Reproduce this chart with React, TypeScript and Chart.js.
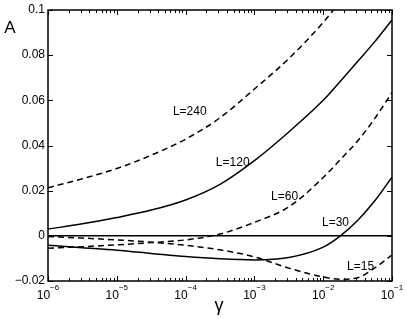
import React, { useEffect, useRef } from "react";
import { Chart, registerables } from "chart.js";

Chart.register(...registerables);

// γ grid (log spaced)
const GAMMA = [1e-6, 3.162e-6, 1e-5, 3.162e-5, 1e-4, 3.162e-4, 1e-3, 3.162e-3, 1e-2, 1.778e-2, 3.162e-2, 5.623e-2, 1e-1];

const A_L240 = [0.0213, 0.0253, 0.0298, 0.0357, 0.0428, 0.0523, 0.065, 0.0785, 0.0945, 0.104, 0.114, 0.125, 0.137];
const A_L120 = [0.003, 0.0053, 0.0081, 0.0114, 0.0159, 0.0228, 0.0333, 0.046, 0.06, 0.0685, 0.0772, 0.086, 0.0956];
const A_L60 = [-0.0055, -0.0048, -0.004, -0.003, -0.0018, 0.0008, 0.006, 0.0128, 0.0258, 0.0338, 0.042, 0.052, 0.0635];
const A_L30 = [-0.0042, -0.0053, -0.0064, -0.0078, -0.0092, -0.0102, -0.0107, -0.0096, -0.005, 0.0, 0.0068, 0.0155, 0.026];
const A_L15 = [-0.0003, -0.001, -0.0018, -0.0028, -0.0042, -0.0062, -0.0093, -0.0143, -0.0182, -0.0192, -0.0186, -0.0142, -0.0085];
const A_ZERO = [0, 0, 0, 0, 0, 0, 0, 0, 0, 0, 0, 0, 0];

const Y_TICKS = [-0.02, 0, 0.02, 0.04, 0.06, 0.08, 0.1];
const Y_TICK_LABELS = ["\u22120.02", "0", "0.02", "0.04", "0.06", "0.08", "0.1"];
const X_TICK_EXPONENTS = [-6, -5, -4, -3, -2, -1];

const CURVE_LABELS = [
  { text: "L=240", gamma: 1.15e-4, a: 0.055 },
  { text: "L=120", gamma: 4.84e-4, a: 0.0322 },
  { text: "L=60", gamma: 2.75e-3, a: 0.0172 },
  { text: "L=30", gamma: 1.51e-2, a: 0.0057 },
  { text: "L=15", gamma: 3.49e-2, a: -0.0138 },
];

const FONT = "'Liberation Sans', Arial, Helvetica, sans-serif";

function series(values: number[], dashed: boolean) {
  return {
    data: GAMMA.map((g, i) => ({ x: g, y: values[i] })),
    borderColor: "#000",
    borderWidth: 1.5,
    borderDash: dashed ? [6, 4] : [],
    pointRadius: 0,
    fill: false,
    cubicInterpolationMode: "monotone" as const,
  };
}

const framePlugin = {
  id: "frame",
  afterDraw(chart: any) {
    const { ctx, chartArea, scales } = chart;
    const xs = scales.x;
    const ys = scales.y;
    const { left, right, top, bottom } = chartArea;
    ctx.save();
    ctx.strokeStyle = "#000";
    ctx.fillStyle = "#000";
    ctx.lineWidth = 1.5;
    ctx.strokeRect(left, top, right - left, bottom - top);

    ctx.lineWidth = 1;
    for (const e of X_TICK_EXPONENTS) {
      for (let m = 1; m <= 9; m++) {
        const v = m * Math.pow(10, e);
        if (v > 0.1 * 1.0001) continue;
        const px = Math.round(xs.getPixelForValue(v)) + 0.5;
        const len = m === 1 ? 5 : 3;
        ctx.beginPath();
        ctx.moveTo(px, bottom);
        ctx.lineTo(px, bottom - len);
        ctx.moveTo(px, top);
        ctx.lineTo(px, top + len);
        ctx.stroke();
      }
    }
    for (const v of Y_TICKS) {
      const py = Math.round(ys.getPixelForValue(v)) + 0.5;
      ctx.beginPath();
      ctx.moveTo(left, py);
      ctx.lineTo(left + 5, py);
      ctx.moveTo(right, py);
      ctx.lineTo(right - 5, py);
      ctx.stroke();
    }

    ctx.font = `12px ${FONT}`;
    ctx.textAlign = "right";
    ctx.textBaseline = "middle";
    Y_TICKS.forEach((v, i) => {
      ctx.fillText(Y_TICK_LABELS[i], left - 3, ys.getPixelForValue(v));
    });

    ctx.textBaseline = "alphabetic";
    for (const e of X_TICK_EXPONENTS) {
      const px = xs.getPixelForValue(Math.pow(10, e));
      const base = "10";
      const exp = "\u2212" + Math.abs(e);
      ctx.font = `12px ${FONT}`;
      const wb = ctx.measureText(base).width;
      ctx.font = `8px ${FONT}`;
      const we = ctx.measureText(exp).width;
      const x0 = px - (wb + we) / 2;
      ctx.textAlign = "left";
      ctx.font = `12px ${FONT}`;
      ctx.fillText(base, x0, 299);
      ctx.font = `8px ${FONT}`;
      ctx.fillText(exp, x0 + wb, 290);
    }

    ctx.textAlign = "center";
    ctx.font = `17px ${FONT}`;
    ctx.fillText("A", 10, 33);
    ctx.font = `18px ${FONT}`;
    ctx.fillText("\u03b3", 219, 311);

    ctx.font = `12px ${FONT}`;
    ctx.textBaseline = "middle";
    for (const l of CURVE_LABELS) {
      ctx.fillText(l.text, xs.getPixelForValue(l.gamma), ys.getPixelForValue(l.a));
    }
    ctx.restore();
  },
};

export default function App() {
  const ref = useRef<HTMLCanvasElement>(null);
  useEffect(() => {
    if (!ref.current) return;
    const chart = new Chart(ref.current, {
      type: "line",
      data: {
        datasets: [
          series(A_L240, true),
          series(A_L120, false),
          series(A_L60, true),
          series(A_L30, false),
          series(A_L15, true),
          series(A_ZERO, false),
        ],
      },
      options: {
        responsive: false,
        animation: false,
        devicePixelRatio: 1,
        layout: { padding: { left: 48, right: 15, top: 10, bottom: 38 } },
        plugins: { legend: { display: false }, tooltip: { enabled: false } },
        scales: {
          x: { type: "logarithmic", min: 1e-6, max: 1e-1, display: false },
          y: { type: "linear", min: -0.02, max: 0.1, display: false },
        },
      },
      plugins: [framePlugin],
    } as any);
    return () => chart.destroy();
  }, []);
  return (
    <div style={{ position: "absolute", left: 0, top: 0, width: 407, height: 319, background: "#fff" }}>
      <canvas ref={ref} width={407} height={319} style={{ display: "block", width: 407, height: 319 }} />
    </div>
  );
}
